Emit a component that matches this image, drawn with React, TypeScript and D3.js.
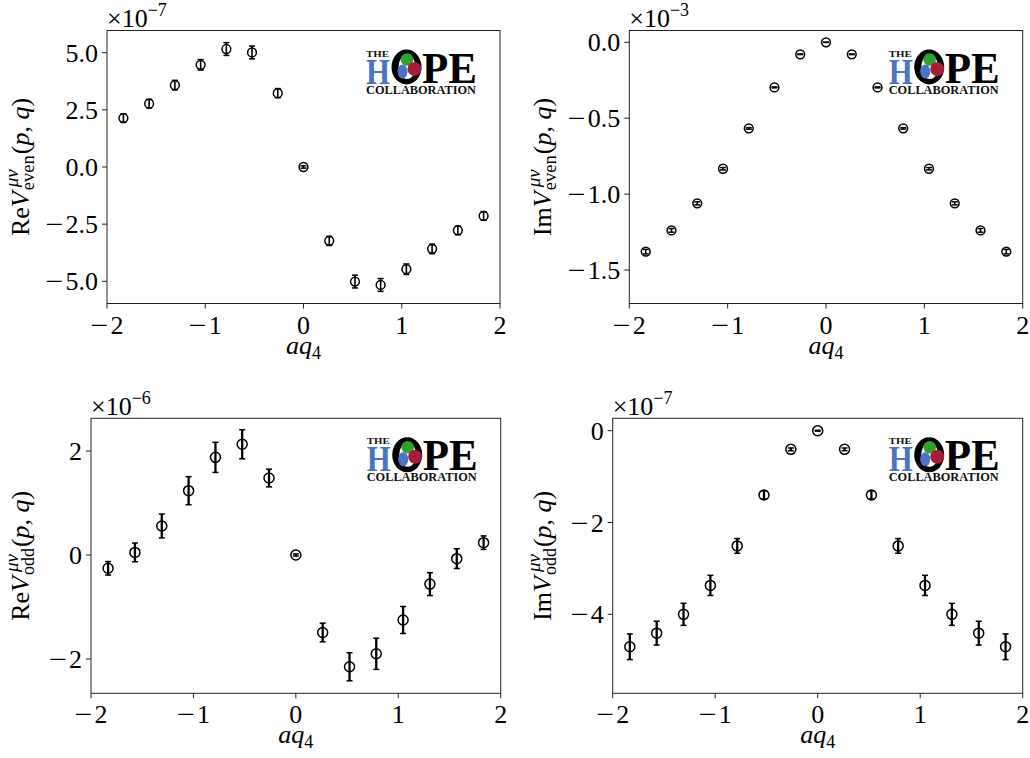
import React from 'react';
import * as d3 from 'd3';

// ---- data ----
const aq4 = [-1.833, -1.571, -1.309, -1.047, -0.785, -0.524, -0.262, 0, 0.262, 0.524, 0.785, 1.047, 1.309, 1.571, 1.833];

// Re V_even (x1e-7)
const reEven = [2.14, 2.77, 3.58, 4.47, 5.16, 5.01, 3.23, 0, -3.23, -5.01, -5.16, -4.47, -3.58, -2.77, -2.14];
const reEvenErr = [0.19, 0.19, 0.21, 0.23, 0.28, 0.28, 0.2, 0.05, 0.2, 0.28, 0.28, 0.23, 0.21, 0.19, 0.19];

// Im V_even (x1e-3)
const imEven = [-1.379, -1.239, -1.061, -0.833, -0.567, -0.297, -0.079, 0, -0.079, -0.297, -0.567, -0.833, -1.061, -1.239, -1.379];
const imEvenErr = [0.015, 0.012, 0.01, 0.008, 0.005, 0.003, 0.002, 0.001, 0.002, 0.003, 0.005, 0.008, 0.01, 0.012, 0.015];

// Re V_odd (x1e-6)
const reOdd = [-0.256, 0.05, 0.558, 1.237, 1.878, 2.13, 1.48, 0, -1.49, -2.15, -1.9, -1.25, -0.56, -0.07, 0.237];
const reOddErr = [0.13, 0.18, 0.23, 0.27, 0.29, 0.28, 0.17, 0.02, 0.18, 0.27, 0.3, 0.26, 0.22, 0.19, 0.13];

// Im V_odd (x1e-7)
const imOdd = [-4.706, -4.41, -4.0, -3.37, -2.51, -1.4, -0.406, 0, -0.406, -1.4, -2.51, -3.37, -4.0, -4.41, -4.706];
const imOddErr = [0.28, 0.26, 0.24, 0.22, 0.16, 0.09, 0.03, 0.01, 0.03, 0.09, 0.16, 0.22, 0.24, 0.26, 0.28];

const xTicks = [-2, -1, 0, 1, 2];
const xTickLabels = ['−2', '−1', '0', '1', '2'];
const reEvenTicks = [-5, -2.5, 0, 2.5, 5];
const reEvenTickLabels = ['−5.0', '−2.5', '0.0', '2.5', '5.0'];
const imEvenTicks = [-1.5, -1, -0.5, 0];
const imEvenTickLabels = ['−1.5', '−1.0', '−0.5', '0.0'];
const reOddTicks = [-2, 0, 2];
const reOddTickLabels = ['−2', '0', '2'];
const imOddTicks = [-4, -2, 0];
const imOddTickLabels = ['−4', '−2', '0'];

const FONT = "'Liberation Serif', 'DejaVu Serif', serif";
const FS = 26;

type PanelProps = {
  left: number; right: number; top: number; bottom: number;
  yDomain: [number, number];
  ys: number[]; errs: number[];
  yTicks: number[]; yTickLabels: string[];
  exponent: string;
  part: string; sub: string; subLen: number;
  labelX: number;
  r: number; ew: number;
};

// a tick label, with a wider minus sign like the TeX one
function TickText({ x, y, anchor, label }: { x: number; y: number; anchor: 'end' | 'middle'; label: string }) {
  const neg = label.startsWith('−');
  return (
    <text x={x} y={y} fontSize={FS} textAnchor={anchor} fill="#000">
      {neg ? (
        <>
          <tspan textLength={18} lengthAdjust="spacingAndGlyphs">−</tspan>
          <tspan dx={2}>{label.slice(1)}</tspan>
        </>
      ) : label}
    </text>
  );
}

function Logo({ x, y }: { x: number; y: number }) {
  return (
    <g transform={`translate(${x},${y})`} fontFamily={FONT} fontWeight="bold">
      <text x={0} y={7} fontSize={9} textLength={23} lengthAdjust="spacingAndGlyphs" fill="#111">THE</text>
      <text x={0} y={34} fontSize={36} textLength={24} lengthAdjust="spacingAndGlyphs" fill="#4a74c6">H</text>
      <ellipse cx={40.5} cy={17.5} rx={15} ry={17.5} fill="#000" />
      <ellipse cx={41} cy={17.5} rx={8.5} ry={12} fill="#fff" />
      <circle cx={41} cy={10} r={6.3} fill="#2ea12e" />
      <ellipse cx={36.5} cy={22} rx={5} ry={7} fill="#4a74c6" />
      <circle cx={48.5} cy={19.5} r={7} fill="#a51d36" />
      <text x={56} y={33} fontSize={45} textLength={55} lengthAdjust="spacingAndGlyphs" fill="#000">PE</text>
      <text x={0} y={44} fontSize={13} textLength={110} lengthAdjust="spacingAndGlyphs" fill="#111">COLLABORATION</text>
    </g>
  );
}

function Panel(p: PanelProps) {
  const x = d3.scaleLinear().domain([-2, 2]).range([p.left, p.right]);
  const y = d3.scaleLinear().domain(p.yDomain).range([p.bottom, p.top]);
  const cy = (p.top + p.bottom) / 2;
  const cx = (p.left + p.right) / 2;
  const cap = 3;
  return (
    <g fontFamily={FONT}>
      {/* offset text */}
      <text x={p.left} y={p.top - 3.5} fontSize={FS} fill="#000">
        ×10<tspan fontSize={18} dy={-11}>{p.exponent}</tspan>
      </text>
      {/* error bars */}
      {aq4.map((xv, i) => {
        const px = x(xv);
        const y1 = y(p.ys[i] - p.errs[i]);
        const y2 = y(p.ys[i] + p.errs[i]);
        return (
          <g key={'e' + i} stroke="#000" strokeWidth={p.ew}>
            <line x1={px} x2={px} y1={y1} y2={y2} />
            <line x1={px - cap} x2={px + cap} y1={y1} y2={y1} strokeWidth={1.5} />
            <line x1={px - cap} x2={px + cap} y1={y2} y2={y2} strokeWidth={1.5} />
          </g>
        );
      })}
      {/* markers */}
      {aq4.map((xv, i) => (
        <circle key={'m' + i} cx={x(xv)} cy={y(p.ys[i])} r={p.r} fill="none" stroke="#000" strokeWidth={1.5} />
      ))}
      {/* frame */}
      <rect x={p.left} y={p.top} width={p.right - p.left} height={p.bottom - p.top} fill="none" stroke="#222" strokeWidth={1} />
      {/* x ticks */}
      {xTicks.map((t, i) => (
        <g key={'xt' + i}>
          <line x1={x(t)} x2={x(t)} y1={p.bottom} y2={p.bottom + 5} stroke="#222" strokeWidth={1} />
          <TickText x={x(t)} y={p.bottom + 30} anchor="middle" label={xTickLabels[i]} />
        </g>
      ))}
      {/* y ticks */}
      {p.yTicks.map((t, i) => (
        <g key={'yt' + i}>
          <line x1={p.left - 5} x2={p.left} y1={y(t)} y2={y(t)} stroke="#222" strokeWidth={1} />
          <TickText x={p.left - 9} y={y(t) + 9} anchor="end" label={p.yTickLabels[i]} />
        </g>
      ))}
      {/* x label */}
      <text x={cx} y={p.bottom + 50} fontSize={FS} textAnchor="middle">
        <tspan fontStyle="italic">aq</tspan><tspan fontSize={18} dy={5}>4</tspan>
      </text>
      {/* y label */}
      <text transform={`translate(${p.labelX},${cy}) rotate(-90)`} fontSize={FS} textAnchor="middle">
        <tspan>{p.part}</tspan>
        <tspan fontStyle="italic">V</tspan>
        <tspan fontSize={18} dy={5} dx={1} textLength={p.subLen} lengthAdjust="spacingAndGlyphs">{p.sub}</tspan>
        <tspan fontSize={18} fontStyle="italic" dy={-16} dx={-p.subLen + 3} textLength={18} lengthAdjust="spacingAndGlyphs">μν</tspan>
        <tspan dy={11} dx={p.subLen - 20}>(</tspan>
        <tspan fontStyle="italic">p</tspan>
        <tspan>, </tspan>
        <tspan fontStyle="italic">q</tspan>
        <tspan>)</tspan>
      </text>
      <Logo x={p.right - 134} y={p.top + 19} />
    </g>
  );
}

export default function App() {
  return (
    <svg width={1030} height={758} style={{ position: 'absolute', left: 0, top: 0, background: '#fff' }}>
      <rect x={0} y={0} width={1030} height={758} fill="#fff" />
      <Panel left={107} right={500} top={30.5} bottom={303.5} yDomain={[-5.97, 5.97]}
        ys={reEven} errs={reEvenErr} yTicks={reEvenTicks} yTickLabels={reEvenTickLabels}
        exponent="−7" part="Re" sub="even" subLen={35} labelX={29} r={4.4} ew={1.6} />
      <Panel left={629.3} right={1022.7} top={30.5} bottom={303.5} yDomain={[-1.7207, 0.0777]}
        ys={imEven} errs={imEvenErr} yTicks={imEvenTicks} yTickLabels={imEvenTickLabels}
        exponent="−3" part="Im" sub="even" subLen={35} labelX={551} r={4.4} ew={1.6} />
      <Panel left={91} right={500.7} top={418.3} bottom={693.3} yDomain={[-2.66, 2.629]}
        ys={reOdd} errs={reOddErr} yTicks={reOddTicks} yTickLabels={reOddTickLabels}
        exponent="−6" part="Re" sub="odd" subLen={27} labelX={29} r={5} ew={2.3} />
      <Panel left={612.7} right={1022.7} top={418.3} bottom={693.3} yDomain={[-5.72, 0.27]}
        ys={imOdd} errs={imOddErr} yTicks={imOddTicks} yTickLabels={imOddTickLabels}
        exponent="−7" part="Im" sub="odd" subLen={27} labelX={551} r={5} ew={2.3} />
    </svg>
  );
}
